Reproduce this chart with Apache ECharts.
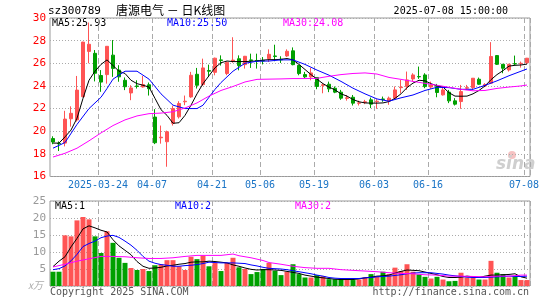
<!DOCTYPE html>
<html>
<head>
<meta charset="utf-8">
<title>唐源电气 日K线图</title>
<script src="https://cdn.jsdelivr.net/npm/echarts@6/dist/echarts.min.js"></script>
<style>
html,body{margin:0;padding:0;background:#fff;}
#main{width:545px;height:300px;}
</style>
</head>
<body>
<div id="main"></div>
<script>
// 交易日
var dates = [
  '2025-03-12','2025-03-13','2025-03-14','2025-03-17','2025-03-18','2025-03-19','2025-03-20','2025-03-21',
  '2025-03-24','2025-03-25','2025-03-26','2025-03-27','2025-03-28','2025-03-31','2025-04-01','2025-04-02',
  '2025-04-03','2025-04-07','2025-04-08','2025-04-09','2025-04-10','2025-04-11','2025-04-14','2025-04-15',
  '2025-04-16','2025-04-17','2025-04-18','2025-04-21','2025-04-22','2025-04-23','2025-04-24','2025-04-25',
  '2025-04-28','2025-04-29','2025-04-30','2025-05-06','2025-05-07','2025-05-08','2025-05-09','2025-05-12',
  '2025-05-13','2025-05-14','2025-05-15','2025-05-16','2025-05-19','2025-05-20','2025-05-21','2025-05-22',
  '2025-05-23','2025-05-26','2025-05-27','2025-05-28','2025-05-29','2025-05-30','2025-06-03','2025-06-04',
  '2025-06-05','2025-06-06','2025-06-09','2025-06-10','2025-06-11','2025-06-12','2025-06-13','2025-06-16',
  '2025-06-17','2025-06-18','2025-06-19','2025-06-20','2025-06-23','2025-06-24','2025-06-25','2025-06-26',
  '2025-06-27','2025-06-30','2025-07-01','2025-07-02','2025-07-03','2025-07-04','2025-07-07','2025-07-08'
];
// 横轴上显示的日期
var labelDays = ['2025-03-24','2025-04-07','2025-04-21','2025-05-06','2025-05-19','2025-06-03','2025-06-16','2025-07-08'];

// K线: 开盘 收盘 最低 最高
var kOpen = [
  19.35,18.92,18.95,21.10,21.00,23.05,27.05,26.88,24.92,25.00,
  26.72,25.40,24.50,23.38,24.00,23.91,24.10,21.25,19.42,19.07,
  20.70,21.27,22.60,23.03,25.03,24.12,25.36,25.20,26.30,25.10,
  26.20,26.40,25.88,26.30,26.25,26.25,26.41,26.65,26.35,26.65,
  27.10,25.82,25.00,24.80,24.75,24.05,24.15,23.80,23.45,22.90,
  23.00,22.47,22.55,22.77,22.60,22.85,22.68,22.92,23.85,23.94,
  24.62,24.83,24.97,23.90,23.94,23.21,23.45,22.68,22.62,23.80,
  23.85,24.59,24.00,24.24,26.68,25.91,25.41,25.97,25.97,26.05
];
var kClose = [
  19.05,18.88,21.07,21.58,23.63,27.87,27.68,25.12,24.34,27.50,
  25.55,24.80,23.93,23.82,23.95,24.12,23.76,18.98,19.47,19.95,
  22.00,22.45,22.65,24.94,24.06,25.59,25.30,26.45,26.25,26.08,
  26.28,25.80,26.62,26.25,26.20,26.20,26.79,26.60,26.30,27.06,
  25.88,25.09,24.80,25.15,23.95,24.10,23.74,23.45,22.92,22.95,
  22.48,22.50,22.60,22.39,22.65,22.80,22.92,23.65,23.90,24.53,
  24.97,24.80,23.94,24.09,23.42,23.65,22.68,22.39,23.50,23.85,
  24.68,24.15,24.12,26.60,25.91,25.56,25.91,25.94,26.00,26.45
];
var kLow = [
  18.85,18.25,18.66,20.40,20.85,23.00,26.00,24.40,23.48,24.20,
  24.80,24.37,23.63,22.74,23.77,23.85,23.15,18.86,18.90,16.86,
  20.50,21.12,22.30,22.95,23.77,24.00,24.80,24.94,25.80,24.95,
  26.05,25.38,25.53,25.59,25.53,25.90,26.12,26.18,26.03,26.56,
  25.82,24.94,24.70,24.50,23.71,23.35,23.45,23.36,22.77,22.70,
  22.27,22.27,22.39,22.04,21.98,22.60,22.33,22.86,23.36,23.65,
  24.38,24.62,23.80,23.74,23.00,23.15,22.48,22.27,21.98,23.65,
  23.65,24.09,23.89,24.18,25.85,25.12,25.27,25.85,25.62,25.94
];
var kHigh = [
  19.55,19.10,21.80,22.20,24.88,27.90,29.60,27.17,25.40,27.50,
  28.05,25.83,24.75,24.06,24.50,24.88,24.30,21.95,20.50,20.05,
  22.25,22.65,23.15,25.24,25.59,26.41,25.88,26.50,26.70,26.15,
  28.30,26.70,26.65,26.85,26.85,26.55,27.23,27.64,26.62,27.23,
  27.40,25.85,25.24,25.59,24.75,24.20,24.38,23.95,23.65,23.20,
  23.20,22.70,22.77,22.97,22.83,23.06,23.06,23.95,24.53,25.27,
  25.12,25.71,25.12,24.38,24.18,23.94,23.65,22.92,24.09,24.09,
  24.70,24.74,24.24,27.87,26.73,25.91,25.95,26.68,26.15,26.47
];

// 均线 [序号, 值]
var ma5 = [
  [0,18.95],[1,18.95],[2,19.5],[3,20.1],[4,21.15],[5,22.9],[6,24.5],[7,25.3],[8,25.9],[9,26.3],
  [10,25.8],[11,25.3],[12,25.1],[13,24.5],[14,24.2],[15,24.06],[16,23.9],[17,22.9],[18,21.9],[19,21.4],
  [20,20.7],[21,20.75],[22,21.4],[23,22.3],[24,23.3],[25,24.2],[26,24.9],[27,25.6],[28,26.05],[29,26.2],
  [30,26.15],[31,26.15],[32,26.15],[33,26.18],[34,26.2],[35,26.28],[36,26.32],[37,26.32],[38,26.35],[39,26.42],
  [40,26.3],[41,25.9],[42,25.45],[43,25.0],[44,24.6],[45,24.2],[46,23.9],[47,23.65],[48,23.3],[49,23.1],
  [50,22.8],[51,22.6],[52,22.5],[53,22.48],[54,22.48],[55,22.5],[56,22.62],[57,22.9],[58,23.3],[59,23.85],
  [60,24.25],[61,24.5],[62,24.45],[63,24.2],[64,24.0],[65,23.9],[66,23.4],[67,23.1],[68,23.09],[69,23.1],
  [70,23.3],[71,23.6],[72,24.0],[73,24.55],[74,25.0],[75,25.35],[76,25.75],[77,25.82],[78,25.85],[79,25.93]
];
var ma10 = [
  [0,18.5],[2,19.0],[4,20.6],[6,22.0],[8,23.0],[9,23.77],[10,24.6],[12,25.3],[14,25.3],[16,24.6],
  [18,23.3],[20,22.3],[22,22.0],[24,22.0],[25,22.3],[26,23.0],[27,23.7],[28,24.3],[30,25.3],[32,26.0],
  [34,26.18],[36,26.2],[38,26.3],[40,26.3],[42,25.9],[44,25.4],[46,24.95],[48,24.4],[50,23.8],[52,23.3],
  [54,22.85],[56,22.65],[58,22.95],[60,23.2],[62,23.6],[64,23.88],[66,23.85],[68,23.7],[70,23.7],[72,24.05],
  [74,24.45],[76,24.9],[78,25.3],[79,25.5]
];
var ma30 = [
  [0,17.72],[2,18.05],[4,18.5],[6,19.15],[8,19.85],[10,20.5],[12,21.0],[14,21.35],[16,21.55],[18,21.6],
  [20,21.72],[22,22.05],[24,22.5],[26,23.1],[28,23.6],[30,23.95],[32,24.35],[34,24.58],[36,24.6],[38,24.62],
  [40,24.65],[42,24.65],[44,24.67],[46,24.85],[48,25.0],[50,25.1],[52,25.15],[54,25.05],[56,24.75],[58,24.58],
  [60,24.4],[62,24.23],[64,24.06],[66,23.88],[68,23.7],[70,23.57],[72,23.6],[74,23.78],[76,23.9],[78,24.0],
  [79,24.08]
];

// 成交量(万)
var volume = [
  4.2,4.2,14.9,14.6,19.3,20.3,19.6,14.6,9.7,16.1,
  12.7,8.3,6.8,5.3,4.7,5.0,4.4,6.1,6.4,7.6,
  7.6,5.8,4.7,8.6,7.9,8.9,5.8,6.8,4.4,6.8,
  8.3,5.5,5.0,3.5,4.1,5.0,6.8,4.5,3.2,4.2,
  6.4,3.5,2.5,2.5,3.2,2.9,2.0,2.0,2.0,1.75,
  1.75,1.9,2.5,3.5,2.9,4.2,3.5,5.4,4.4,6.4,
  4.2,3.4,2.7,2.2,2.7,1.9,1.4,1.5,3.9,2.5,
  2.5,1.9,1.9,7.4,3.9,3.5,2.5,2.9,1.75,1.75
];
var volMa5 = [
  [0,5.7],[1,7.3],[2,8.6],[3,11.5],[4,14.0],[5,16.8],[6,17.7],[7,17.1],[8,16.4],[9,15.9],
  [10,13.6],[11,11.8],[12,10.5],[13,9.2],[14,7.2],[15,5.8],[16,5.2],[17,5.3],[18,5.5],[19,5.9],
  [20,6.1],[21,6.4],[22,6.6],[23,7.0],[24,7.1],[25,7.1],[26,7.3],[27,7.2],[28,7.0],[29,6.8],
  [30,6.2],[31,5.8],[32,5.3],[33,4.9],[34,4.7],[35,4.8],[36,4.8],[37,4.7],[38,4.6],[39,4.3],
  [40,4.0],[41,3.7],[42,3.2],[43,2.9],[44,2.6],[45,2.4],[46,2.2],[47,2.0],[48,1.9],[49,1.9],
  [50,1.9],[51,2.1],[52,2.4],[53,2.6],[54,2.9],[55,3.0],[56,3.2],[57,3.8],[58,4.3],[59,4.7],
  [60,4.6],[61,4.5],[62,4.1],[63,3.7],[64,3.3],[65,2.8],[66,2.5],[67,2.5],[68,2.6],[69,2.9],
  [70,2.7],[71,2.5],[72,2.9],[73,3.2],[74,3.2],[75,3.3],[76,3.4],[77,3.6],[78,2.7],[79,2.3]
];
var volMa10 = [
  [0,4.8],[1,5.1],[2,5.9],[3,7.4],[4,9.3],[5,11.6],[6,12.5],[7,13.2],[8,14.2],[9,14.7],
  [10,14.9],[11,14.3],[12,13.2],[13,12.0],[14,10.5],[15,8.7],[16,7.3],[17,6.7],[18,6.3],[19,6.1],
  [20,5.8],[21,5.8],[22,6.0],[23,6.1],[24,6.3],[25,6.6],[26,7.0],[27,6.9],[28,6.8],[29,6.8],
  [30,6.8],[31,6.7],[32,6.6],[33,6.2],[34,5.9],[35,5.5],[36,5.2],[37,5.1],[38,5.0],[39,4.8],
  [40,4.5],[41,4.2],[42,3.9],[43,3.6],[44,3.2],[45,2.9],[46,2.5],[47,2.3],[48,2.2],[49,2.2],
  [50,2.2],[51,2.2],[52,2.4],[53,2.5],[54,2.7],[55,2.8],[56,2.9],[57,3.1],[58,3.3],[59,3.6],
  [60,3.8],[61,3.9],[62,3.9],[63,3.9],[64,3.7],[65,3.5],[66,3.2],[67,3.0],[68,2.8],[69,2.6],
  [70,2.5],[71,2.5],[72,2.5],[73,2.6],[74,2.7],[75,2.8],[76,2.9],[77,2.8],[78,2.8],[79,2.9]
];
var volMa30 = [
  [0,5.6],[2,6.4],[4,7.3],[6,8.0],[8,8.7],[10,8.7],[12,8.6],[14,8.3],[16,8.1],[18,8.1],
  [20,8.3],[22,8.7],[24,9.0],[26,9.0],[28,9.0],[30,9.4],[31,8.9],[33,8.3],[35,7.5],[36,6.9],
  [38,6.4],[40,5.8],[42,5.4],[44,5.2],[46,5.2],[48,4.8],[50,4.6],[52,4.4],[54,4.2],[56,3.9],
  [58,3.7],[60,3.6],[62,3.3],[64,3.2],[66,2.9],[68,2.9],[70,2.8],[72,2.7],[74,2.9],[76,2.9],
  [78,3.2],[79,3.2]
];

var RED = '#ff5454', GREEN = '#00a000';
var MONO = '"DejaVu Sans Mono", monospace';
var GRIDC = '#aaa';

var candle = dates.map(function (d, i) {
    return [kOpen[i], kClose[i], kLow[i], kHigh[i]];
});
function isLabelDay(idx, val) {
    return labelDays.indexOf(dates[idx]) >= 0;
}
function last(arr) { return arr[arr.length - 1][1].toFixed(2); }

var myChart = echarts.init(document.getElementById('main'));

var option = {
    animation: false,
    backgroundColor: '#fff',
    grid: [
        {left: 50, top: 18, width: 480, height: 158.5, show: true, borderColor: '#999', borderWidth: 1},
        {left: 50, top: 201, width: 480, height: 85, show: true, borderColor: '#999', borderWidth: 1}
    ],
    xAxis: [
        {
            type: 'category', gridIndex: 0, data: dates, boundaryGap: true,
            axisLine: {show: false}, axisTick: {show: false},
            axisLabel: {
                interval: isLabelDay, color: '#1a74c6', fontFamily: MONO, fontSize: 10,
                margin: 4, padding: [0, 6, 0, 0],
                formatter: function (v) { return v === '2025-03-24' ? v : v.slice(5); }
            },
            splitLine: {show: true, interval: isLabelDay, lineStyle: {color: GRIDC, type: [5, 3]}}
        },
        {
            type: 'category', gridIndex: 1, data: dates, boundaryGap: true,
            axisLine: {show: false}, axisTick: {show: false}, axisLabel: {show: false},
            splitLine: {show: true, interval: isLabelDay, lineStyle: {color: GRIDC, type: [5, 3]}}
        }
    ],
    yAxis: [
        {
            type: 'value', gridIndex: 0, min: 16, max: 30, interval: 2,
            axisLine: {show: false}, axisTick: {show: false},
            axisLabel: {color: '#f00', fontFamily: MONO, fontSize: 11, margin: 4},
            splitLine: {lineStyle: {color: GRIDC, type: [1, 2]}}
        },
        {
            type: 'value', gridIndex: 1, min: 0, max: 25, interval: 5,
            axisLine: {show: false}, axisTick: {show: false},
            axisLabel: {color: '#999', fontFamily: MONO, fontSize: 11, margin: 4, showMinLabel: false},
            splitLine: {lineStyle: {color: GRIDC, type: [1, 2]}}
        }
    ],
    series: [
        {
            type: 'candlestick', xAxisIndex: 0, yAxisIndex: 0, data: candle, barWidth: 4,
            itemStyle: {color: RED, color0: GREEN, borderColor: RED, borderColor0: GREEN, borderWidth: 1}
        },
        {type: 'line', xAxisIndex: 0, yAxisIndex: 0, data: ma5, symbol: 'none', silent: true,
            lineStyle: {color: '#000', width: 1}},
        {type: 'line', xAxisIndex: 0, yAxisIndex: 0, data: ma10, symbol: 'none', silent: true,
            lineStyle: {color: '#00f', width: 1}},
        {type: 'line', xAxisIndex: 0, yAxisIndex: 0, data: ma30, symbol: 'none', silent: true,
            lineStyle: {color: '#f0f', width: 1}},
        {
            type: 'bar', xAxisIndex: 1, yAxisIndex: 1, data: volume, barWidth: 5,
            itemStyle: {
                color: function (p) { return kClose[p.dataIndex] >= kOpen[p.dataIndex] ? RED : GREEN; }
            }
        },
        {type: 'line', xAxisIndex: 1, yAxisIndex: 1, data: volMa5, symbol: 'none', silent: true,
            lineStyle: {color: '#000', width: 1}},
        {type: 'line', xAxisIndex: 1, yAxisIndex: 1, data: volMa10, symbol: 'none', silent: true,
            lineStyle: {color: '#00f', width: 1}},
        {type: 'line', xAxisIndex: 1, yAxisIndex: 1, data: volMa30, symbol: 'none', silent: true,
            lineStyle: {color: '#f0f', width: 1}}
    ],
    graphic: [
        {type: 'text', x: 48, y: 11, style: {text: 'sz300789', fill: '#000', font: '11px ' + MONO, textVerticalAlign: 'middle'}},
        {type: 'text', x: 116, y: 10, style: {text: '唐源电气 － 日K线图', fill: '#000', font: '12px "Noto Sans CJK SC"', textVerticalAlign: 'middle'}},
        {type: 'text', x: 508, y: 11, style: {text: '2025-07-08 15:00:00', fill: '#000', font: '10px ' + MONO, textAlign: 'right', textVerticalAlign: 'middle'}},
        {type: 'text', x: 52, y: 23.5, style: {text: 'MA5:' + last(ma5), fill: '#000', font: '10px ' + MONO, textVerticalAlign: 'middle'}},
        {type: 'text', x: 167, y: 23.5, style: {text: 'MA10:' + last(ma10), fill: '#00f', font: '10px ' + MONO, textVerticalAlign: 'middle'}},
        {type: 'text', x: 283, y: 23.5, style: {text: 'MA30:' + last(ma30), fill: '#f0f', font: '10px ' + MONO, textVerticalAlign: 'middle'}},
        {type: 'text', x: 55, y: 206, style: {text: 'MA5:1', fill: '#000', font: '10px ' + MONO, textVerticalAlign: 'middle'}},
        {type: 'text', x: 175, y: 206, style: {text: 'MA10:2', fill: '#00f', font: '10px ' + MONO, textVerticalAlign: 'middle'}},
        {type: 'text', x: 295, y: 206, style: {text: 'MA30:2', fill: '#f0f', font: '10px ' + MONO, textVerticalAlign: 'middle'}},
        {type: 'text', x: 28, y: 285, style: {text: 'x万', fill: '#aaa', font: 'italic 10px "Noto Sans CJK SC"', textVerticalAlign: 'middle'}},
        {type: 'text', x: 50, y: 292.5, style: {text: 'Copyright 2025 SINA.COM', fill: '#555', font: '10px ' + MONO, textVerticalAlign: 'middle'}},
        {type: 'text', x: 529, y: 292.5, style: {text: 'http://finance.sina.com.cn', fill: '#555', font: '10px ' + MONO, textAlign: 'right', textVerticalAlign: 'middle'}},
        // 新浪水印
        {type: 'circle', shape: {cx: 512, cy: 155, r: 4}, style: {fill: 'rgba(235,120,120,0.45)'}, z: 0},
        {type: 'text', x: 496, y: 165, style: {text: 'sina', fill: '#cfcfcf', font: 'italic bold 17px "DejaVu Sans"', textVerticalAlign: 'middle'}, z: 0}
    ]
};

myChart.setOption(option);
</script>
</body>
</html>
